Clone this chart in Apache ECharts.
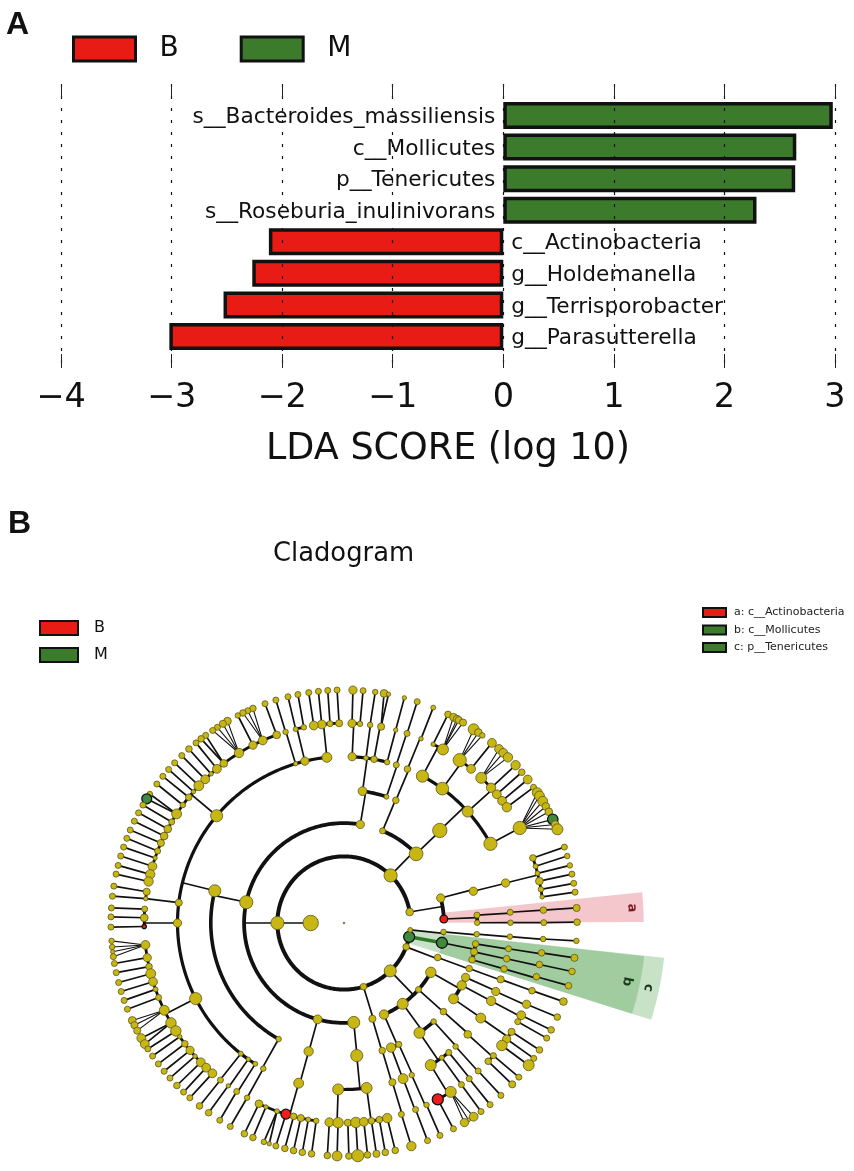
<!DOCTYPE html>
<html><head><meta charset="utf-8">
<style>html,body{margin:0;padding:0;background:#fff}#c{width:854px;height:1171px}</style>
<script src="https://cdn.jsdelivr.net/npm/echarts@6/dist/echarts.min.js"></script>
</head><body><div id="c"></div>
<script>
// ---- Panel A ----
const categories = ['', 'g__Parasutterella', 'g__Terrisporobacter', 'g__Holdemanella', 'c__Actinobacteria',
  's__Roseburia_inulinivorans', 'p__Tenericutes', 'c__Mollicutes', 's__Bacteroides_massiliensis', ''];
const scoresB = [null, -3.02, -2.53, -2.27, -2.12, null, null, null, null, null];
const scoresM = [null, null, null, null, null, 2.29, 2.64, 2.65, 2.98, null];
const groupNames = ['B', 'M'];
const highlightNames = ['a: c__Actinobacteria', 'b: c__Mollicutes', 'c: p__Tenericutes'];

// ---- Panel B: taxa in tree order, rows are [taxonomic level, angle in degrees, abundance, enriched group]
const rootTaxa = [[0,0,1.5],[1,180,14]];
const phylumActino = [[2,9.5,7],[3,2.3,7,'B'],[4,3.4,5.5],[5,3.7,5.5],[6,3.7,6],[7,3.7,6.5],[4,0.1,5],[5,0.1,5],[6,0.1,5.5],[7,0.2,6],
  [3,14.5,7.5],[4,13.8,7.5],[5,13.9,7.5],[6,19,6],[7,19,5.5],[6,16.5,4.5],[7,16.7,5],[6,14.4,4.5],[7,14.3,5],[6,12.1,7],[7,12.1,5.5],[6,9.7,5],[7,9.8,5.5],[6,7.5,4],[7,7.6,5.5]];
const phylumUpper = [[2,45.6,12],[3,67.3,5.5],[4,67.1,6],[5,67.6,6],[6,67.3,4],[7,67.5,4.5],
  [3,43.8,12.5],[4,44,13],
  [5,61.9,11],[6,63.5,4],[7,63.5,6],[6,60.3,10],[7,62,7],[7,61,7],[7,60.5,6.5],[7,59.3,6.5],
  [5,53.8,11.5],[6,54.6,12],[7,56.2,10],[7,54.8,7],[7,53.6,5],[6,50.5,8],[7,50.6,8],
  [5,42,10],[6,46.6,10],[7,48.3,8],[7,46.9,8],[7,45.3,8.5],[6,42.6,8.5],[7,42.6,8.5],[6,40.1,8],[7,40.3,6],[6,37.7,8],[7,38,8],[6,35.4,8.5],[7,35.6,5.5],
  [5,28.4,12],[6,28.4,12],[7,34,9],[7,33,9],[7,31.5,9],[7,30,7],[7,28.5,7],[7,26.4,9.5,'M'],[7,25,7],[7,23.7,10]];
const phylumMain = [[2,180,12],
  [3,80.6,7.5],[4,82,8],
  [5,87.2,7.5],[6,87.7,7.5],[7,87.8,7.5],[6,85.4,5],[7,85.3,5.5],
  [5,82.4,4.5],[6,82.5,5],[7,82.3,5],
  [5,79.6,6],[6,79.3,6.5],[7,80.1,7],[7,79,4],
  [5,75,5],[6,75,4],[7,75,4],
  [4,71.4,4.5],[5,71.7,5.5],[6,71.6,5.5],[7,71.7,5.5],
  [3,168,12],[4,166,11],
  [5,95.9,9],[6,91.4,6.5],[7,91.7,5.5],[6,94,5.5],[7,94,5.5],[6,96.4,8],[7,96.3,5.5],[6,98.7,8],[7,98.7,5.5],
  [5,103.6,7.5],[6,101.6,5],[7,101.4,5.5],[6,104,4.5],[7,103.9,5.5],
  [5,106.9,4],[6,107,5],[7,107,5.5],
  [5,139.9,11],[6,109.7,7],[7,109.8,5.5],[6,114,8],[7,113,6],[7,114.4,5.5],[7,115.7,6],[6,117.1,7.5],[7,117.1,5],
  [6,121.7,8.5],[7,120,7],[7,121.3,6.5],[7,122.9,5.5],[7,124.3,5.5],[6,127,7],[7,126.4,5.5],[7,127.8,6],[6,129.5,8],[7,129.4,5.5],
  [6,131.7,4],[7,131.7,6],[6,134,8],[7,134.1,5.5],[6,136.6,9],[7,136.6,5.5],[6,138.9,4],[7,138.8,5.5],[6,141,6],[7,141,5.5],
  [6,143.8,5],[7,143.4,5.5],[6,146.9,9],[7,146.4,5],[7,147.8,9,'M'],[6,149.6,5.5],[7,149.6,5.5],[6,151.9,7],[7,151.8,5.5],
  [6,154.2,7],[7,154.1,5.5],[6,156.4,6.5],[7,156.5,5.5],[6,158.9,5.5],[7,158.7,5.5],[6,161,4],[7,161,5.5],[6,163.5,8],[7,163.3,5.5],
  [6,165.9,8.5],[7,165.7,5.5],[6,168,8.5],[7,167.9,5.5],
  [5,173,6.5],[6,171,6.5],[7,170.9,5.5],[6,173,4],[7,173.4,5.5],
  [5,180,7.5],[6,176,5.5],[7,176.3,5.5],[6,178.5,7],[7,178.5,5.5],[6,181,4,'B'],[7,181,5.5],
  [5,207,11],[6,186.3,8],[7,184.4,5],[7,185.9,5],[7,187.1,4],[7,188.3,5.5],[6,190,7.5],[7,190,5.5],[6,192.6,6],[7,192.3,5.5],
  [6,194.7,9],[7,194.8,5.5],[6,197.1,8],[7,197.1,5.5],[6,199.4,4.5],[7,199.4,5.5],[6,201.9,5.5],[7,201.7,5.5],
  [6,205.9,9],[7,204.7,7],[7,206,6.5],[7,207.5,6.5],[6,210,9.5],[7,209.6,8],[7,211.3,8],[6,212.7,9.5],[7,212.7,5.5],
  [6,214.7,4],[7,214.8,5.5],[6,217.2,6],[7,217.2,5.5],[6,219.6,7.5],[7,219.5,5.5],[6,221.8,4],[7,221.7,5.5],
  [6,224.2,8],[7,224.2,6],[6,226.4,8],[7,226.5,5.5],[6,228.8,8],[7,228.6,5.5],
  [5,231.7,4.5],[6,231.8,5.5],[7,231.7,6],[5,234.9,4],[6,234.6,4],[7,234.5,6],[5,237.8,4.5],[6,237.5,5.5],[7,237.8,5.5],
  [4,240.6,5],[5,241,5],[6,241,5],[7,240.8,5.5],
  [3,254.7,8],[4,254.6,8.5],[5,254.2,9],[6,244.8,7],[7,244.7,6],[6,247,4],[7,247,6],[6,250.4,4.5],[7,249.9,5],[7,251.3,4],
  [6,253.1,9,'B'],[7,253,5.5],[6,255.4,6],[7,255.3,6],[6,257.5,6.5],[7,257.5,6],[6,259.7,4.5],[7,259.7,6],[6,262,5],[7,262,6],
  [3,275.6,11],[4,275.5,11],[5,268,10],[6,265.8,8],[7,265.9,6],[6,268.3,9.5],[7,268.3,9],
  [5,277.8,10],[6,271.1,6.5],[7,271.2,6],[6,273.4,9.5],[7,273.4,11],[6,275.7,8],[7,275.8,6],[6,277.9,6],[7,278,6.5],[6,280.2,6],[7,280.2,6],[6,282.5,8.5],[7,282.7,6]];
const phylumP287 = [[2,287,6],[3,286.5,6.5],[4,286.7,6],[5,286.9,6.5],[6,286.7,5.5],[7,286.8,8.5]];
const phylumP314 = [[2,314,11],
  [3,293.6,8.5],[4,294.3,5.5],[5,294,5],[6,294.4,5],[7,294.3,5.5],[4,290.7,8.5],[5,290.8,9],[6,291,5.5],[7,291,5.5],
  [3,306,10],[4,312.3,5],[5,312.1,5],[6,312.2,5.5],[7,312.3,5.5],
  [4,304.5,10],[5,309,5.5],[6,308.8,5.5],[7,308.8,5.5],[5,306,4.5],[6,306,5.5],[7,306,5.5],
  [5,301.4,10],[6,302.3,10],[7,303.8,8],[7,302.3,3.5],[7,301.1,7.5],[6,298,10,'B'],[7,298,5.5],
  [3,318.2,5.5],[4,318.3,6],[5,318,7],[6,318.4,5.5],[7,318.6,5.5],[6,316.2,6],[7,316.2,6.5],
  [3,330.4,9.5],[4,325.3,9],[5,325.2,9],[6,327,6.5],[7,327,6],[6,324.5,7.5],[7,324.5,5.5],[6,322.2,9.5],[7,322.4,10],
  [4,332.1,8.5],[5,332.1,8.5],[6,332.5,8],[7,332.7,6],[6,330.4,5.5],[7,330.4,5.5],
  [4,335.9,7.5],[5,335.7,7.5],[6,336,7.5],[7,336.2,6]];
const phylumP339 = [[2,339,6],[3,339.8,6],[4,340,6],[5,340.2,6.5],[6,340.2,6],[7,340.3,7]];
const phylumTeneri = [[2,348,10,'M'],[3,348.6,10,'M'],
  [4,344,6],[5,344,6],[6,344.4,6],[7,344.4,6],[4,347.5,6.5],[5,347.6,6],[6,348,6],[7,348,6],[4,351,6],[5,351.1,5.5],[6,351.4,6],[7,351.4,6.5]];
const phylumP354 = [[2,354,4.5],[3,354.9,5],[4,355.2,5],[5,355.3,5],[6,355.4,5],[7,355.6,5]];
// shaded clades: [inner level, outer level, first angle, last angle, label level, label angle, letter]
const cladeA = [3, 9.0, 0.2, 5.9, 8.66, 3, 'a'];
const cladeB = [3, 9.07, 342.5, 353.7, 8.68, 348.3, 'b'];
const cladeC = [2, 9.67, 342.5, 353.8, 9.34, 348, 'c'];

const RED = '#e81c14', GREEN = '#3c7a2c', YELLOW = '#c8b612', FONT = 'DejaVu Sans';

const taxa = rootTaxa.concat(phylumActino, phylumUpper, phylumMain, phylumP287, phylumP314, phylumP339, phylumTeneri, phylumP354);
const children = taxa.map(() => []);
const lastAtLevel = {};
taxa.forEach((t, i) => {
  lastAtLevel[t[0]] = i;
  if (t[0] >= 2) children[lastAtLevel[t[0] - 1]].push(i);
});
const arcWidth = {2: 4, 3: 3.8, 4: 3.6, 5: 3.2, 6: 2.8};

function arcPoints(api, level, a0, a1) {
  const pts = [];
  const n = Math.max(1, Math.ceil(Math.abs(a1 - a0)));
  for (let k = 0; k <= n; k++) pts.push(api.coord([level, a0 + (a1 - a0) * k / n]));
  return pts;
}
function renderLinks(params, api) {
  const i = params.dataIndex, t = taxa[i], kids = children[i], out = [];
  const line = (pts, w, col) => ({type: 'polyline', shape: {points: pts}, silent: true,
    style: {stroke: col || '#111', lineWidth: w, fill: null, lineCap: 'round', lineJoin: 'round'}});
  if (!kids.length) return {type: 'group', children: out};
  const childLevel = t[0] + 1;
  if (childLevel === 7) {
    const w = kids.length > 2 ? 1.1 : 1.7;
    kids.forEach(c => out.push(line([api.coord([t[0], t[1]]), api.coord([7, taxa[c][1]])], w)));
  } else if (t[3] === 'M' && kids.some(c => taxa[c][3] === 'M')) {
    out.push(line([api.coord([t[0], t[1]]), api.coord([childLevel, taxa[kids[0]][1]])], 3.6, '#2f7a2a'));
  } else {
    out.push(line([api.coord([t[0], t[1]]), api.coord([childLevel, t[1]])], 1.7));
    const angs = kids.map(c => taxa[c][1]).concat([t[1]]);
    out.push(line(arcPoints(api, childLevel, Math.min(...angs), Math.max(...angs)), arcWidth[childLevel]));
  }
  return {type: 'group', children: out};
}
function wedgeSeries(name, clade, legendColor, fill, textCol) {
  return {
    name, type: 'custom', coordinateSystem: 'polar', polarIndex: 0, silent: true, z: 1,
    itemStyle: {color: legendColor, borderColor: '#000', borderWidth: 2},
    encode: {radius: 0, angle: 1},
    data: [[clade[0], clade[2]]],
    renderItem(params, api) {
      const pts = arcPoints(api, clade[0], clade[2], clade[3]).concat(arcPoints(api, clade[1], clade[3], clade[2]));
      const p = api.coord([clade[4], clade[5]]);
      const rot = -(90 + (clade[5] > 180 ? 360 - clade[5] : -clade[5])) * Math.PI / 180;
      return {type: 'group', children: [
        {type: 'polygon', shape: {points: pts}, style: {fill, stroke: null}},
        {type: 'text', x: p[0], y: p[1], rotation: rot, z2: 5,
         style: {text: clade[6], fontFamily: FONT, fontSize: 13, fontWeight: 'bold', fill: textCol, align: 'center', verticalAlign: 'middle'}}
      ]};
    }
  };
}
const barBase = {type: 'bar', barWidth: 27, barGap: '-100%', xAxisIndex: 0, yAxisIndex: 0, z: 2};
const labelStyle = {show: true, formatter: '{b}', fontFamily: FONT, fontSize: 21.7, color: '#111', distance: 8, offset: [0, 2]};

const option = {
  animation: false,
  backgroundColor: '#fff',
  title: [
    {text: 'A', left: 1, top: 4, textStyle: {fontFamily: 'Liberation Sans', fontWeight: 'bold', fontSize: 32, color: '#111'}},
    {text: 'B', left: 3, top: 503, textStyle: {fontFamily: 'Liberation Sans', fontWeight: 'bold', fontSize: 32, color: '#111'}},
    {text: 'Cladogram', left: 268, top: 536, textStyle: {fontFamily: FONT, fontWeight: 'normal', fontSize: 25.8, color: '#111'}}
  ],
  legend: [
    {data: groupNames, left: 72, top: 35, padding: 0, itemWidth: 62, itemHeight: 24, itemGap: 61, icon: 'rect', selectedMode: false,
     itemStyle: {borderWidth: 3, borderColor: '#111'},
     textStyle: {fontFamily: FONT, fontSize: 28, color: '#111', padding: [2, 0, 0, 19]}},
    {data: groupNames, left: 39, top: 620, padding: 0, orient: 'vertical', itemWidth: 38, itemHeight: 14, itemGap: 11, icon: 'rect', selectedMode: false,
     itemStyle: {borderWidth: 2, borderColor: '#111'},
     textStyle: {fontFamily: FONT, fontSize: 16, color: '#111', padding: [0, 0, 0, 11]}},
    {data: highlightNames, left: 702, top: 607, padding: 0, orient: 'vertical', itemWidth: 23, itemHeight: 9, itemGap: 6.5, icon: 'rect', selectedMode: false,
     itemStyle: {borderWidth: 2, borderColor: '#111'},
     textStyle: {fontFamily: FONT, fontSize: 11, color: '#222', padding: [0, 0, 0, 3]}}
  ],
  grid: {left: 61, width: 774, top: 84, height: 284},
  xAxis: [
    {type: 'value', min: -4, max: 3, interval: 1, position: 'bottom', z: 3,
     name: 'LDA SCORE (log 10)', nameLocation: 'middle', nameGap: 63,
     nameTextStyle: {fontFamily: FONT, fontSize: 36.5, color: '#111'},
     axisLine: {show: false},
     axisTick: {show: true, inside: true, length: 14, lineStyle: {color: '#222', width: 1}},
     axisLabel: {margin: 13, fontFamily: FONT, fontSize: 33.5, color: '#111', formatter: v => String(v).replace('-', '\u2212')},
     splitLine: {show: true, lineStyle: {color: '#111', width: 1.2, type: [3, 9]}}},
    {type: 'value', min: -4, max: 3, interval: 1, position: 'top', z: 3,
     axisLine: {show: false}, axisLabel: {show: false}, splitLine: {show: false},
     axisTick: {show: true, inside: true, length: 14, lineStyle: {color: '#222', width: 1}}}
  ],
  yAxis: {type: 'category', data: categories, boundaryGap: false, show: false},
  polar: {center: [344, 923], radius: [0, 322]},
  radiusAxis: {type: 'value', min: 0, max: 9.67, show: false},
  angleAxis: {type: 'value', min: 0, max: 360, startAngle: 0, clockwise: false, show: false},
  series: [
    Object.assign({}, barBase, {name: 'B', data: scoresB, itemStyle: {color: RED, borderColor: '#111', borderWidth: 3.5},
      label: Object.assign({}, labelStyle, {position: 'right'})}),
    Object.assign({}, barBase, {name: 'M', data: scoresM, itemStyle: {color: GREEN, borderColor: '#111', borderWidth: 3.5},
      label: Object.assign({}, labelStyle, {position: 'left'})}),
    wedgeSeries(highlightNames[2], cladeC, GREEN, 'rgba(170,210,170,0.65)', '#223322'),
    wedgeSeries(highlightNames[1], cladeB, GREEN, 'rgba(130,185,125,0.55)', '#1c3a1c'),
    wedgeSeries(highlightNames[0], cladeA, RED, 'rgba(240,185,190,0.8)', '#7a1a20'),
    {name: 'links', type: 'custom', coordinateSystem: 'polar', polarIndex: 0, silent: true, z: 3,
     encode: {radius: 0, angle: 1},
     data: taxa.map(t => [t[0], t[1]]), renderItem: renderLinks},
    {name: 'taxa', type: 'scatter', coordinateSystem: 'polar', polarIndex: 0, silent: true, z: 4,
     symbolSize: v => v[2] * 1.1,
     encode: {radius: 0, angle: 1},
     data: taxa.map(t => ({
       value: [t[0], t[1], t[2]],
       itemStyle: {
         opacity: 1,
         color: t[3] === 'B' ? '#f01c1c' : t[3] === 'M' ? '#3f8a3c' : (t[0] === 0 ? '#a89c3c' : YELLOW),
         borderColor: t[3] ? '#111' : '#5a5520',
         borderWidth: t[3] ? 1.3 : 0.8
       }
     }))}
  ]
};
const chart = echarts.init(document.getElementById('c'), null, {renderer: 'canvas'});
chart.setOption(option);
</script></body></html>
